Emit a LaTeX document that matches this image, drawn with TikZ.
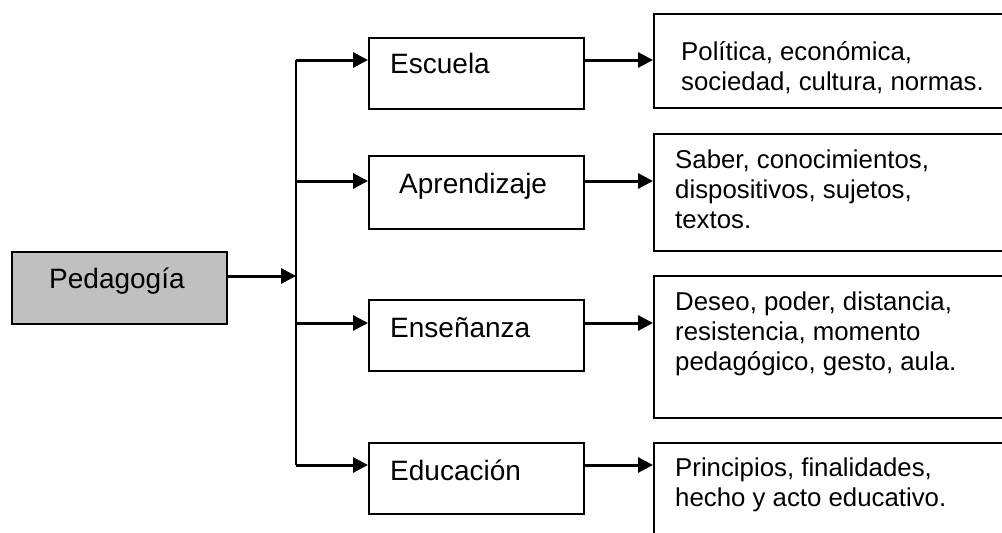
\documentclass[tikz,border=0pt]{standalone}
\usepackage{fontspec}
\setmainfont{Liberation Sans}
\usetikzlibrary{arrows.meta}
\tikzset{
  box/.style={draw=black, line width=1.8pt, anchor=north west, inner sep=0pt, fill=white},
  midtext/.style={anchor=base west, inner sep=0pt, font=\fontsize{28}{32}\selectfont},
  righttext/.style={anchor=base west, inner sep=0pt, align=left, font=\fontsize{25.8}{29.8}\selectfont},
  arr/.style={line width=3pt, -{Triangle[length=15pt,width=15pt]}},
  trunk/.style={line width=2.6pt}
}
\begin{document}
\begin{tikzpicture}[x=1pt,y=-1pt]
\path[use as bounding box] (0,0) rectangle (1002,533);
\clip (0,0) rectangle (1002,533);
% left box
\node[box, fill={rgb,255:red,192;green,192;blue,192}, minimum width=215pt, minimum height=72pt] (ped) at (11,251) {};
\node[midtext] (pedt) at (49,288) {Pedagogía};
% middle boxes
\node[box, minimum width=215pt, minimum height=71pt] (esc) at (368,37) {};
\node[box, minimum width=215pt, minimum height=73pt] (apr) at (368,155) {};
\node[box, minimum width=215pt, minimum height=71pt] (ens) at (368,299) {};
\node[box, minimum width=215pt, minimum height=71pt] (edu) at (368,442) {};
\node[midtext] (esct) at (390,73) {Escuela};
\node[midtext] (aprt) at (399,193) {Aprendizaje};
\node[midtext] (enst) at (390,337) {Enseñanza};
\node[midtext] (edut) at (390,480) {Educación};
% right boxes
\node[box, minimum width=360pt, minimum height=94pt] (r1) at (653,13) {};
\node[box, minimum width=360pt, minimum height=117pt] (r2) at (653,133) {};
\node[box, minimum width=360pt, minimum height=142pt] (r3) at (653,275) {};
\node[box, minimum width=360pt, minimum height=120pt] (r4) at (653,442) {};
\node[righttext] (r1t) at (681,90) {Política, económica,\\sociedad, cultura, normas.};
\node[righttext] (r2t) at (675,228) {Saber, conocimientos,\\dispositivos, sujetos,\\textos.};
\node[righttext] (r3t) at (675,370) {Deseo, poder, distancia,\\resistencia, momento\\pedagógico, gesto, aula.};
\node[righttext] (r4t) at (675,506) {Principios, finalidades,\\hecho y acto educativo.};
% connectors
\coordinate (j0) at (296,276);
\coordinate (j1) at (296,60);
\coordinate (j2) at (296,181);
\coordinate (j3) at (296,323);
\coordinate (j4) at (296,465);
\draw[trunk] (j1) -- (j4);
\draw[arr] (ped.east |- j0) -- (j0);
\draw[arr] (j1) -- (esc.west |- j1);
\draw[arr] (j2) -- (apr.west |- j2);
\draw[arr] (j3) -- (ens.west |- j3);
\draw[arr] (j4) -- (edu.west |- j4);
\draw[arr] (esc.east |- j1) -- (r1.west |- j1);
\draw[arr] (apr.east |- j2) -- (r2.west |- j2);
\draw[arr] (ens.east |- j3) -- (r3.west |- j3);
\draw[arr] (edu.east |- j4) -- (r4.west |- j4);
\end{tikzpicture}
\end{document}
